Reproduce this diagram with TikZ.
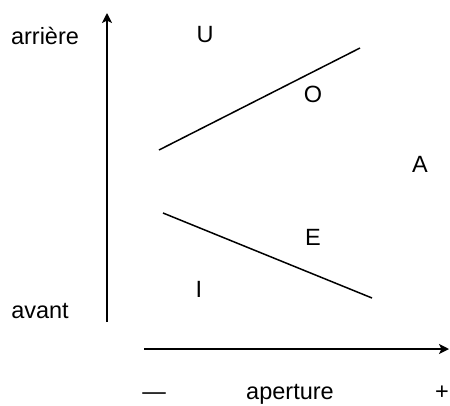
\documentclass[tikz,border=0pt]{standalone}
\usepackage{fontspec}
\setmainfont{Liberation Sans}
\usetikzlibrary{arrows.meta}

\begin{document}
\begin{tikzpicture}[x=1pt, y=-1pt, line width=1.5pt,
          lbl/.style={font=\fontsize{23.5}{27}\selectfont, inner sep=0pt, anchor=base},
          axis/.style={-{Stealth[length=10pt, width=10pt, inset=2.5pt]}}]
        \useasboundingbox (0,0) rectangle (450,405);
        \coordinate (yfoot) at (107,322);
        \coordinate (ytip) at (107,13);
        \coordinate (xfoot) at (144,349);
        \coordinate (xtip) at (449,349);
        \coordinate (back1) at (159,150);
        \coordinate (back2) at (360,48);
        \coordinate (front1) at (163,213);
        \coordinate (front2) at (372,298);
        \draw[axis] (yfoot) -- (ytip);
        \draw[axis] (xfoot) -- (xtip);
        \draw (back1) -- (back2);
        \draw (front1) -- (front2);
        \node[lbl] (arriere) at (45,44) {arrière};
        \node[lbl] (avant) at (40,318) {avant};
        \node[lbl] (moins) at (154,399) {—};
        \node[lbl] (aperture) at (290,399) {aperture};
        \node[lbl] (plus) at (442,399) {+};
        \node[lbl] (u) at (205,42) {U};
        \node[lbl] (o) at (313,102) {O};
        \node[lbl] (a) at (420,172) {A};
        \node[lbl] (e) at (313,245) {E};
        \node[lbl] (i) at (199,297) {I};
      \end{tikzpicture}
\end{document}
